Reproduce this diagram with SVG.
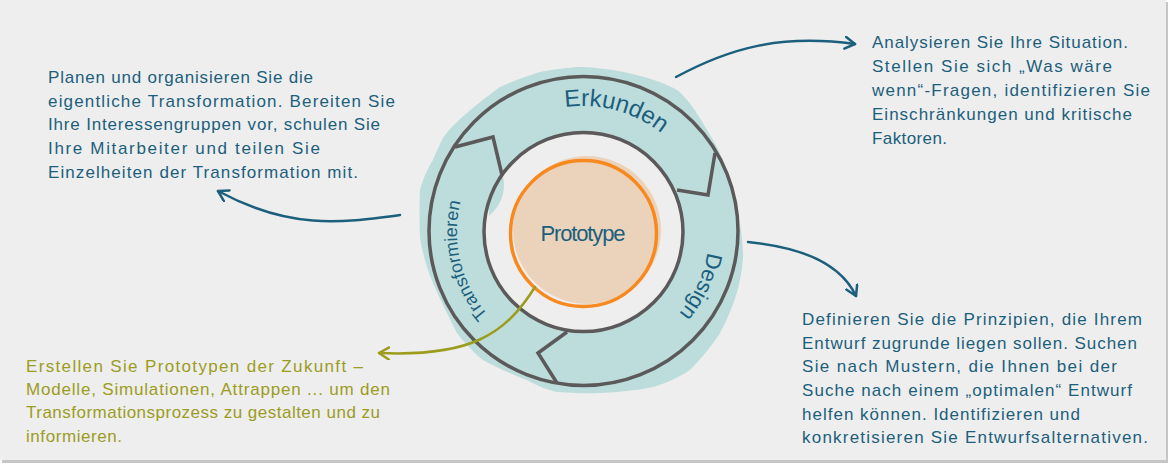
<svg xmlns="http://www.w3.org/2000/svg" width="1170" height="464" viewBox="0 0 1170 464">
<style>
.t{font-family:"Liberation Sans",Arial,sans-serif;font-size:17px;fill:#1c5f7c}
.o{font-family:"Liberation Sans",Arial,sans-serif;font-size:17px;fill:#9c9c1e}
.lbl{font-family:"Liberation Sans",Arial,sans-serif;fill:#1c5f7c}
.ring{fill:none;stroke:#5b5959;stroke-width:3.5;stroke-linejoin:miter}
.arr{fill:none;stroke:#1c5f7c;stroke-width:2.5;stroke-linecap:round}
.arro{fill:none;stroke:#9c9c1e;stroke-width:2.5;stroke-linecap:round}
</style>
<defs>
<marker id="mh" markerUnits="userSpaceOnUse" markerWidth="16" markerHeight="16" refX="11" refY="7" orient="auto">
<path d="M1,1 L11,7 L1,13" fill="none" stroke="#1c5f7c" stroke-width="2.5" stroke-linecap="round" stroke-linejoin="round"/>
</marker>
<marker id="mo" markerUnits="userSpaceOnUse" markerWidth="16" markerHeight="16" refX="11" refY="7" orient="auto">
<path d="M1,1 L11,7 L1,13" fill="none" stroke="#9c9c1e" stroke-width="2.5" stroke-linecap="round" stroke-linejoin="round"/>
</marker>
<path id="circ" d="M583,358 A126,126 0 1 1 583,106 A126,126 0 1 1 583,358"/>
</defs>
<rect x="0" y="0" width="1170" height="464" fill="#ffffff"/>
<rect x="2" y="2" width="1166" height="461" fill="#c6c6c6"/>
<rect x="0" y="0" width="1166" height="460" fill="#eeeeee"/>

<g id="cycle">
<path d="M580,67 C620,68 660,80 677,90 C690,100 700,118 713,140 C725,160 733,190 733,190 C740,215 744,250 743,258 C741,283 735,305 720,333 C708,352 692,368 690,370 C672,382 653,387 653,387 C630,392 600,393 600,393 C580,394 557,392 557,392 C540,388 527,380 527,380 C505,372 483,360 483,360 C470,350 457,333 457,333 C445,310 433,283 433,283 C423,260 420,237 420,237 C419,215 420,190 420,190 C425,172 433,160 433,160 C437,150 443,138 443,138 C452,125 467,113 467,113 C482,100 500,87 500,87 C520,78 540,72 540,72 C560,68 580,67 580,67 Z" fill="#bddcdc"/>
<circle cx="583.5" cy="232" r="99" fill="#eeeeee"/>
<path d="M489,178 C496,170 504,172 504,184 C504,196 500,206 489,216 Z" fill="#bddcdc"/>
<circle cx="587" cy="230" r="74" fill="#ebd3bb"/>
<circle cx="583.5" cy="233.5" r="73" fill="none" stroke="#f7891f" stroke-width="3.5"/>
<circle class="ring" cx="583.5" cy="231" r="154.5"/>
<circle class="ring" cx="583.5" cy="232" r="99.5"/>
<polyline class="ring" points="455,147 493,137 502,175"/>
<polyline class="ring" points="715,153 708,195 677,190"/>
<polyline class="ring" points="567,332 538,353 557,383"/>
</g>

<g id="labels">
<text class="lbl" font-size="24" text-anchor="middle"><textPath href="#circ" startOffset="429">Erkunden</textPath></text>
<text class="lbl" font-size="22" text-anchor="middle"><textPath href="#circ" startOffset="648">Design</textPath></text>
<text class="lbl" font-size="18" text-anchor="middle"><textPath href="#circ" startOffset="168">Transformieren</textPath></text>
<text class="lbl" font-size="22" x="583" y="241" text-anchor="middle" textLength="85" lengthAdjust="spacing">Prototype</text>
</g>

<g id="connectors">
<path class="arr" d="M676,77 C730,48 780,34 855,44" marker-end="url(#mh)"/>
<path class="arr" d="M400,215 C340,223 290,230 218,191" marker-end="url(#mh)"/>
<path class="arr" d="M748,242 C800,247 840,262 856,296" marker-end="url(#mh)"/>
<path class="arro" d="M535,287 C505,335 470,357 379,353" marker-end="url(#mo)"/>
</g>

<g id="text-transform">
<text class="t" x="48" y="83" textLength="265" lengthAdjust="spacing">Planen und organisieren Sie die</text>
<text class="t" x="48" y="107" textLength="347" lengthAdjust="spacing">eigentliche Transformation. Bereiten Sie</text>
<text class="t" x="48" y="130" textLength="332" lengthAdjust="spacing">Ihre Interessengruppen vor, schulen Sie</text>
<text class="t" x="48" y="154" textLength="272" lengthAdjust="spacing">Ihre Mitarbeiter und teilen Sie</text>
<text class="t" x="48" y="178" textLength="310" lengthAdjust="spacing">Einzelheiten der Transformation mit.</text>
</g>

<g id="text-erkunden">
<text class="t" x="872" y="48" textLength="256" lengthAdjust="spacing">Analysieren Sie Ihre Situation.</text>
<text class="t" x="872" y="72" textLength="240" lengthAdjust="spacing">Stellen Sie sich „Was wäre</text>
<text class="t" x="872" y="96" textLength="278" lengthAdjust="spacing">wenn“-Fragen, identifizieren Sie</text>
<text class="t" x="872" y="120" textLength="260" lengthAdjust="spacing">Einschränkungen und kritische</text>
<text class="t" x="872" y="144" textLength="75" lengthAdjust="spacing">Faktoren.</text>
</g>

<g id="text-design">
<text class="t" x="802" y="325" textLength="340" lengthAdjust="spacing">Definieren Sie die Prinzipien, die Ihrem</text>
<text class="t" x="802" y="349" textLength="335" lengthAdjust="spacing">Entwurf zugrunde liegen sollen. Suchen</text>
<text class="t" x="802" y="372" textLength="315" lengthAdjust="spacing">Sie nach Mustern, die Ihnen bei der</text>
<text class="t" x="802" y="396" textLength="330" lengthAdjust="spacing">Suche nach einem „optimalen“ Entwurf</text>
<text class="t" x="802" y="420" textLength="278" lengthAdjust="spacing">helfen können. Identifizieren und</text>
<text class="t" x="802" y="443" textLength="346" lengthAdjust="spacing">konkretisieren Sie Entwurfsalternativen.</text>
</g>

<g id="text-prototype">
<text class="o" x="26" y="372" textLength="337" lengthAdjust="spacing">Erstellen Sie Prototypen der Zukunft –</text>
<text class="o" x="26" y="395" textLength="364" lengthAdjust="spacing">Modelle, Simulationen, Attrappen ... um den</text>
<text class="o" x="26" y="418" textLength="354" lengthAdjust="spacing">Transformationsprozess zu gestalten und zu</text>
<text class="o" x="26" y="442" textLength="96" lengthAdjust="spacing">informieren.</text>
</g>
</svg>
